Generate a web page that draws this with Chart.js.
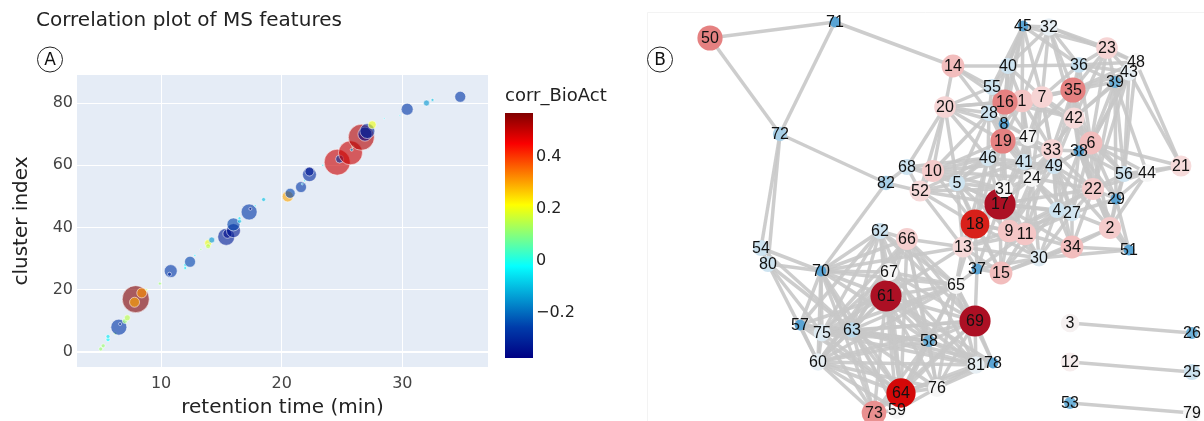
<!DOCTYPE html>
<html>
<head>
<meta charset="utf-8">
<script src="https://cdn.jsdelivr.net/npm/chart.js@4.4.1/dist/chart.umd.min.js"></script>
<style>
  body { margin: 0; background: #fff; width: 1204px; height: 421px; overflow: hidden; position: relative; }
  #graficoA { position: absolute; left: 0; top: 0; }
  #graficoB { position: absolute; left: 640px; top: 0; }
</style>
</head>
<body>
<canvas id="graficoA" width="640" height="421"></canvas>
<canvas id="graficoB" width="564" height="421"></canvas>
<script>
// painel A: tempo de retencao x indice do cluster
const tempoRet = [5.0, 5.2, 5.6, 5.6, 6.2, 6.5, 6.6, 7.0, 7.2, 7.9, 8.4, 7.8, 8.8, 9.9, 10.8, 10.7, 12.0, 12.0, 12.4, 12.8,
  13.3, 13.9, 13.9, 14.2, 15.4, 15.5, 16.0, 16.0, 16.5, 16.5, 17.3, 17.4, 17.8, 18.5, 20.5, 20.7, 21.6, 21.7, 21.9, 22.3,
  22.3, 23.4, 24.6, 24.8, 25.7, 25.8, 25.9, 26.6, 26.9, 27.1, 27.5, 28.5, 29.8, 30.4, 32.0, 32.5, 34.8];
const indiceCluster = [1, 2, 4, 5, 6, 8, 9, 10, 11, 17, 19, 16, 20, 22, 26, 25, 27, 28, 29, 31,
  33, 35, 34, 36, 37, 38, 39, 41, 42, 43, 45, 46, 47, 49, 50, 51, 53, 54, 55, 57,
  58, 60, 61, 62, 64, 65, 66, 69, 70, 71, 73, 75, 76, 78, 80, 81, 82];
const corrBio = [0.12, 0.12, -0.02, -0.05, 0.12, -0.27, -0.3, 0.12, 0.15, 0.57, 0.32, 0.3, 0.15, 0.12, -0.27, -0.3, -0.05, -0.05, -0.25, -0.03,
  0.1, 0.2, 0.15, -0.15, -0.32, -0.35, -0.33, -0.25, -0.1, -0.05, -0.27, -0.35, -0.05, -0.1, 0.3, -0.25, -0.27, -0.1, -0.05, -0.3,
  -0.33, -0.05, 0.5, -0.28, 0.5, -0.15, 0.1, 0.52, -0.375, -0.3, 0.2, -0.05, -0.05, -0.27, -0.15, -0.1, -0.27];
const tamanho = [4, 4, 4, 4, 3, 16, 3, 5, 6, 27, 10, 10, 2, 3, 13, 4, 3, 3, 11, 2,
  2, 7, 5, 6, 17, 9, 14, 13, 4, 3, 16, 3, 2, 4, 11, 10, 11, 2, 2, 14,
  9, 2, 26, 8, 24, 3, 2, 26, 14, 15, 8, 1.5, 1.5, 12, 6, 3, 11];
const ticksX = [10, 20, 30];
const ticksY = [0, 20, 40, 60, 80];
const ticksCor = [0.4, 0.2, 0, -0.2];
const corMin = -0.375, corMax = 0.571;

// painel B: rede de clusters
const noId = [1, 2, 3, 4, 5, 6, 7, 8, 9, 10, 11, 12, 13, 14, 15, 16, 17, 18, 19, 20,
  21, 22, 23, 24, 25, 26, 27, 28, 29, 30, 31, 32, 33, 34, 35, 36, 37, 38, 39, 40,
  41, 42, 43, 44, 45, 46, 47, 48, 49, 50, 51, 52, 53, 54, 55, 56, 57, 58, 59, 60,
  61, 62, 63, 64, 65, 66, 67, 68, 69, 70, 71, 72, 73, 75, 76, 78, 79, 80, 81, 82];
const noX = [1022, 1110, 1070, 1057, 957, 1091, 1042, 1004, 1009, 933, 1025, 1070, 963, 953, 1001, 1005, 1000, 975, 1003, 945,
  1181, 1093, 1107, 1032, 1192, 1192, 1072, 989, 1116, 1039, 1004, 1049, 1052, 1072, 1073, 1079, 977, 1079, 1115, 1008,
  1024, 1074, 1129, 1147, 1023, 988, 1028, 1136, 1054, 710, 1129, 920, 1070, 761, 992, 1124, 800, 929, 897, 818,
  886, 880, 852, 901, 956, 907, 889, 907, 975, 821, 835, 780, 874, 822, 937, 993, 1192, 768, 976, 886];
const noY = [101, 228, 323, 210, 183, 143, 97, 124, 231, 171, 234, 362, 247, 66, 273, 102, 204, 224, 141, 107,
  166, 189, 48, 178, 372, 333, 213, 113, 199, 258, 189, 27, 150, 247, 90, 65, 269, 151, 82, 66,
  162, 118, 72, 173, 26, 158, 137, 62, 166, 38, 250, 191, 403, 248, 87, 174, 325, 341, 410, 362,
  296, 231, 330, 393, 285, 239, 272, 167, 321, 271, 22, 134, 413, 333, 388, 363, 413, 264, 365, 183];
const noCorr = [0.18, 0.17, 0.02, -0.08, -0.08, 0.2, 0.15, -0.3, 0.18, 0.17, 0.18, 0.04, 0.13, 0.2, 0.2, 0.3, 0.55, 0.45, 0.3, 0.15,
  0.12, 0.17, 0.15, 0.0, -0.08, -0.25, -0.07, -0.08, -0.3, -0.05, 0.0, -0.03, 0.15, 0.2, 0.3, -0.1, -0.3, -0.3, -0.25, -0.08,
  -0.08, 0.13, -0.03, 0.0, -0.3, -0.07, 0.0, 0.0, -0.08, 0.3, -0.3, 0.13, -0.25, -0.08, -0.08, -0.08, -0.3, -0.25, 0.0, -0.03,
  0.55, -0.08, -0.12, 0.47, 0.0, 0.16, 0.0, -0.08, 0.55, -0.3, -0.3, -0.15, 0.28, -0.05, 0.0, -0.3, 0.0, -0.08, -0.03, -0.15];
const arestas = `
17-18 17-31 17-9 17-11 17-19 17-46 17-5 17-24 17-41 17-13 17-4 17-27 17-22 17-10 17-52 17-47 17-33 17-15 17-30 17-37 17-34
18-13 18-9 18-31 18-5 18-19 18-46 18-52 18-10 18-11 18-15 18-37 18-30
19-8 19-16 19-28 19-46 19-47 19-41 19-1 19-31 19-5 19-10 19-20 19-24 19-33 19-9
16-1 16-55 16-28 16-8 16-40 16-45 16-7 16-20 16-47 16-35 16-42 16-14
1-7 1-47 1-8 1-42 1-35 1-33 1-41 1-40 1-32 1-24 1-28 1-55
7-35 7-42 7-36 7-33 7-47 7-32 7-45 7-49 7-41 7-24 7-6 7-40
35-36 35-42 35-23 35-39 35-6 35-38 35-48 35-43 35-33 35-47 35-49 35-22
42-6 42-38 42-33 42-49 42-39 42-43 42-22 42-24 42-56 42-36 42-23
6-38 6-22 6-29 6-56 6-43 6-39 6-48 6-49 6-27 6-44 6-21 6-2 6-36 6-23
33-49 33-38 33-24 33-41 33-4 33-22 33-47 33-27 33-9 33-11
38-49 38-22 38-56 38-27 38-4 38-2 38-29
41-24 41-46 41-47 41-49 41-31 41-5 41-9 41-4 41-8 41-28 41-10
24-49 24-31 24-4 24-27 24-9 24-11 24-22 24-30 24-46 24-47
49-4 49-27 49-22 49-2 49-34 49-9 49-47
22-27 22-29 22-2 22-34 22-56 22-44 22-4 22-9 22-51 22-39 22-43
27-4 27-2 27-34 27-11 27-29 27-9 27-30
4-11 4-9 4-30 4-34 4-15
9-11 9-13 9-31 9-15 9-30 9-5
11-34 11-30 11-15 11-13 11-37 11-31
2-29 2-34 2-51 2-56 2-44 2-30
34-30 34-15 34-51
30-15 30-51 30-37 30-13
15-37 15-13 15-5
13-37 13-52 13-5 13-66 13-70 13-61 13-65 13-31 13-46
10-52 10-5 10-20 10-46 10-68 10-28 10-31 10-24
52-5 52-68 52-82 52-46 52-31 52-20
5-46 5-31 5-28 5-20
20-28 20-55 20-8 20-46 20-14 20-68 20-16
28-55 28-8 28-46 28-14 28-47
55-40 55-8 55-45 55-14
40-45 40-32 40-36 40-14 40-8 40-19
45-32 45-23 45-36 45-8 45-1 45-28
32-36 32-23 32-48 32-42 32-35
36-23 36-48 36-39 36-43
23-48 23-43 23-39
48-43 48-39 48-21 48-56
43-39 43-21 43-56
39-56 39-44 39-29
56-44 56-21 56-29
44-21 44-29
29-51
46-31 46-47 8-47
68-82 68-5 68-46
82-72 82-70
50-71 50-72 71-72 71-14 72-54 72-80
54-80 54-70 80-70 80-63 80-75 54-63 80-60
62-70 62-67 62-61 62-63 62-66 62-58 62-69 62-65 62-75 62-57 62-64
66-67 66-61 66-65 66-69 66-63 66-58 66-64 66-70 66-75 66-60 66-76 66-81
70-67 70-61 70-63 70-75 70-60 70-57 70-65 70-58 70-64 70-73 70-59
67-61 67-65 67-63 67-69 67-58 67-75 67-64 67-60 67-81
61-63 61-65 61-69 61-58 61-64 61-75 61-60 61-81 61-57 61-76 61-73 61-59 61-78
65-69 65-58 65-63 65-81 65-37 65-78 65-64 65-18 65-76 65-60 65-75
69-58 69-81 69-78 69-64 69-76 69-63 69-37 69-60 69-75 69-73
57-75 57-63 57-60 57-58 57-64
75-63 75-60 75-64 75-58 75-73 75-81
63-58 63-60 63-64 63-81 63-59 63-73 63-76 63-78
58-64 58-81 58-76 58-60 58-59 58-73 58-78
60-64 60-73 60-59 60-81 60-76
64-76 64-73 64-59 64-81 64-78
76-81 76-78 76-59
81-78 73-59
3-26 12-25 53-79`;

const FONTE = "'DejaVu Sans', Verdana, sans-serif";

// escala jet do plotly
const jetStops = [[0, [0, 0, 131]], [0.125, [0, 60, 170]], [0.375, [5, 255, 255]], [0.625, [255, 255, 0]], [0.875, [250, 0, 0]], [1, [128, 0, 0]]];
// escala azul-branco-vermelho da rede
const redeStops = [[-0.35, [70, 150, 205]], [-0.25, [110, 178, 218]], [-0.1, [195, 222, 238]], [0, [246, 246, 246]],
  [0.15, [246, 212, 212]], [0.25, [238, 165, 165]], [0.32, [226, 115, 115]], [0.42, [222, 68, 52]], [0.47, [212, 8, 8]], [0.55, [172, 16, 36]]];

function interpola(stops, t) {
  if (t <= stops[0][0]) return stops[0][1];
  for (let i = 1; i < stops.length; i++) {
    if (t <= stops[i][0]) {
      const a = stops[i - 1], b = stops[i];
      const f = (t - a[0]) / (b[0] - a[0]);
      return a[1].map((v, k) => Math.round(v + (b[1][k] - v) * f));
    }
  }
  return stops[stops.length - 1][1];
}
function corJet(v, alpha) {
  const c = interpola(jetStops, (v - corMin) / (corMax - corMin));
  return `rgba(${c[0]},${c[1]},${c[2]},${alpha})`;
}
function corRede(v) {
  const c = interpola(redeStops, v);
  return `rgb(${c[0]},${c[1]},${c[2]})`;
}

function desenhaCirculoLetra(ctx, x, y, letra) {
  ctx.save();
  ctx.beginPath();
  ctx.arc(x, y, 12.5, 0, Math.PI * 2);
  ctx.fillStyle = '#fff';
  ctx.fill();
  ctx.strokeStyle = '#222';
  ctx.lineWidth = 1;
  ctx.stroke();
  ctx.fillStyle = '#111';
  ctx.font = `17px ${FONTE}`;
  ctx.textAlign = 'center';
  ctx.textBaseline = 'middle';
  ctx.fillText(letra, x, y + 1);
  ctx.restore();
}

const fundoA = {
  id: 'fundoA',
  beforeDraw(chart) {
    const { ctx, chartArea: a } = chart;
    ctx.save();
    ctx.fillStyle = '#E5ECF6';
    ctx.fillRect(a.left, a.top, a.right - a.left, a.bottom - a.top);
    ctx.restore();
  },
  afterDraw(chart) {
    const { ctx, chartArea: a } = chart;
    ctx.save();
    ctx.fillStyle = '#222';
    ctx.font = `20px ${FONTE}`;
    ctx.textBaseline = 'middle';
    ctx.fillText('Correlation plot of MS features', 36, 21);
    ctx.textAlign = 'center';
    ctx.fillText('retention time (min)', (a.left + a.right) / 2, 408);
    ctx.translate(22, (a.top + a.bottom) / 2);
    ctx.rotate(-Math.PI / 2);
    ctx.fillText('cluster index', 0, 0);
    ctx.restore();

    desenhaCirculoLetra(ctx, 50, 59.5, 'A');

    // barra de cores
    const bx = 505, bw = 28, topo = 113, base = 358;
    const grad = ctx.createLinearGradient(0, base, 0, topo);
    jetStops.forEach(s => grad.addColorStop(s[0], `rgb(${s[1].join(',')})`));
    ctx.save();
    ctx.fillStyle = grad;
    ctx.fillRect(bx, topo, bw, base - topo);
    ctx.fillStyle = '#222';
    ctx.font = `18px ${FONTE}`;
    ctx.textBaseline = 'middle';
    ctx.fillText('corr_BioAct', bx, 96);
    ctx.font = `16px ${FONTE}`;
    ticksCor.forEach(v => {
      const y = base - (v - corMin) / (corMax - corMin) * (base - topo);
      const txt = v < 0 ? '\u2212' + Math.abs(v) : String(v);
      ctx.fillText(txt, bx + bw + 3, y);
    });
    ctx.restore();
  }
};

function geraBolhas() {
  const canva = document.getElementById('graficoA');
  const pontos = tempoRet.map((x, i) => ({ x, y: indiceCluster[i], r: tamanho[i] / 2 }));
  new Chart(canva, {
    type: 'bubble',
    data: {
      datasets: [{
        data: pontos,
        backgroundColor: corrBio.map(c => corJet(c, 0.62)),
        borderColor: 'rgba(255,255,255,0.55)',
        borderWidth: 1
      }]
    },
    options: {
      responsive: false,
      animation: false,
      events: [],
      layout: { padding: { left: 0, right: 152, top: 75, bottom: 0 }, autoPadding: false },
      plugins: { legend: { display: false }, tooltip: { enabled: false } },
      scales: {
        x: {
          type: 'linear', min: 3.03, max: 37.1,
          afterBuildTicks: s => { s.ticks = ticksX.map(v => ({ value: v })); },
          afterFit: s => { s.height = 54; },
          ticks: { color: '#444', font: { family: FONTE, size: 16 }, padding: 7 },
          grid: { color: '#fff', lineWidth: 1, drawTicks: false },
          border: { display: false }
        },
        y: {
          type: 'linear', min: -4.8, max: 89,
          afterBuildTicks: s => { s.ticks = ticksY.map(v => ({ value: v })); },
          afterFit: s => { s.width = 77; },
          ticks: { color: '#444', font: { family: FONTE, size: 16 }, padding: 4 },
          grid: { color: '#fff', lineWidth: c => (c.tick && c.tick.value === 0 ? 2 : 1), drawTicks: false },
          border: { display: false }
        }
      }
    },
    plugins: [fundoA]
  });
}

const rotulosB = {
  id: 'rotulosB',
  beforeDraw(chart) {
    const ctx = chart.ctx;
    ctx.save();
    ctx.strokeStyle = '#f3f3f3';
    ctx.lineWidth = 1;
    ctx.beginPath();
    ctx.moveTo(7.5, 421);
    ctx.lineTo(7.5, 12.5);
    ctx.lineTo(564, 12.5);
    ctx.stroke();
    ctx.restore();
  },
  afterDatasetsDraw(chart) {
    const ctx = chart.ctx;
    const sx = chart.scales.x, sy = chart.scales.y;
    ctx.save();
    ctx.fillStyle = '#111';
    ctx.font = "16px 'Liberation Sans', Arial, sans-serif";
    ctx.textAlign = 'center';
    ctx.textBaseline = 'middle';
    noId.forEach((id, i) => {
      ctx.fillText(String(id), sx.getPixelForValue(noX[i]), sy.getPixelForValue(noY[i]) + 1);
    });
    ctx.restore();
    desenhaCirculoLetra(ctx, 20, 59.5, 'B');
  }
};

function desenhaRede() {
  const canva = document.getElementById('graficoB');
  const pos = {};
  noId.forEach((id, i) => { pos[id] = { x: noX[i], y: noY[i] }; });
  const linhas = arestas.trim().split(/\s+/).map(par => {
    const [a, b] = par.split('-');
    return {
      type: 'scatter', showLine: true, order: 1, clip: false,
      data: [pos[a], pos[b]],
      borderColor: 'rgba(200,200,200,0.9)', borderWidth: 3.5, pointRadius: 0
    };
  });
  const nos = {
    type: 'scatter', order: 0, clip: false,
    data: noId.map((id, i) => ({ x: noX[i], y: noY[i] })),
    backgroundColor: noCorr.map(corRede),
    pointRadius: noCorr.map(c => Math.max(5, 9 + 12 * c)),
    borderWidth: 0
  };
  new Chart(canva, {
    type: 'scatter',
    data: { datasets: [nos, ...linhas] },
    options: {
      responsive: false,
      animation: false,
      events: [],
      layout: { padding: 0, autoPadding: false },
      plugins: { legend: { display: false }, tooltip: { enabled: false } },
      scales: {
        x: { type: 'linear', min: 640, max: 1204, display: false },
        y: { type: 'linear', min: 0, max: 421, reverse: true, display: false }
      }
    },
    plugins: [rotulosB]
  });
}

geraBolhas();
desenhaRede();
</script>
</body>
</html>
